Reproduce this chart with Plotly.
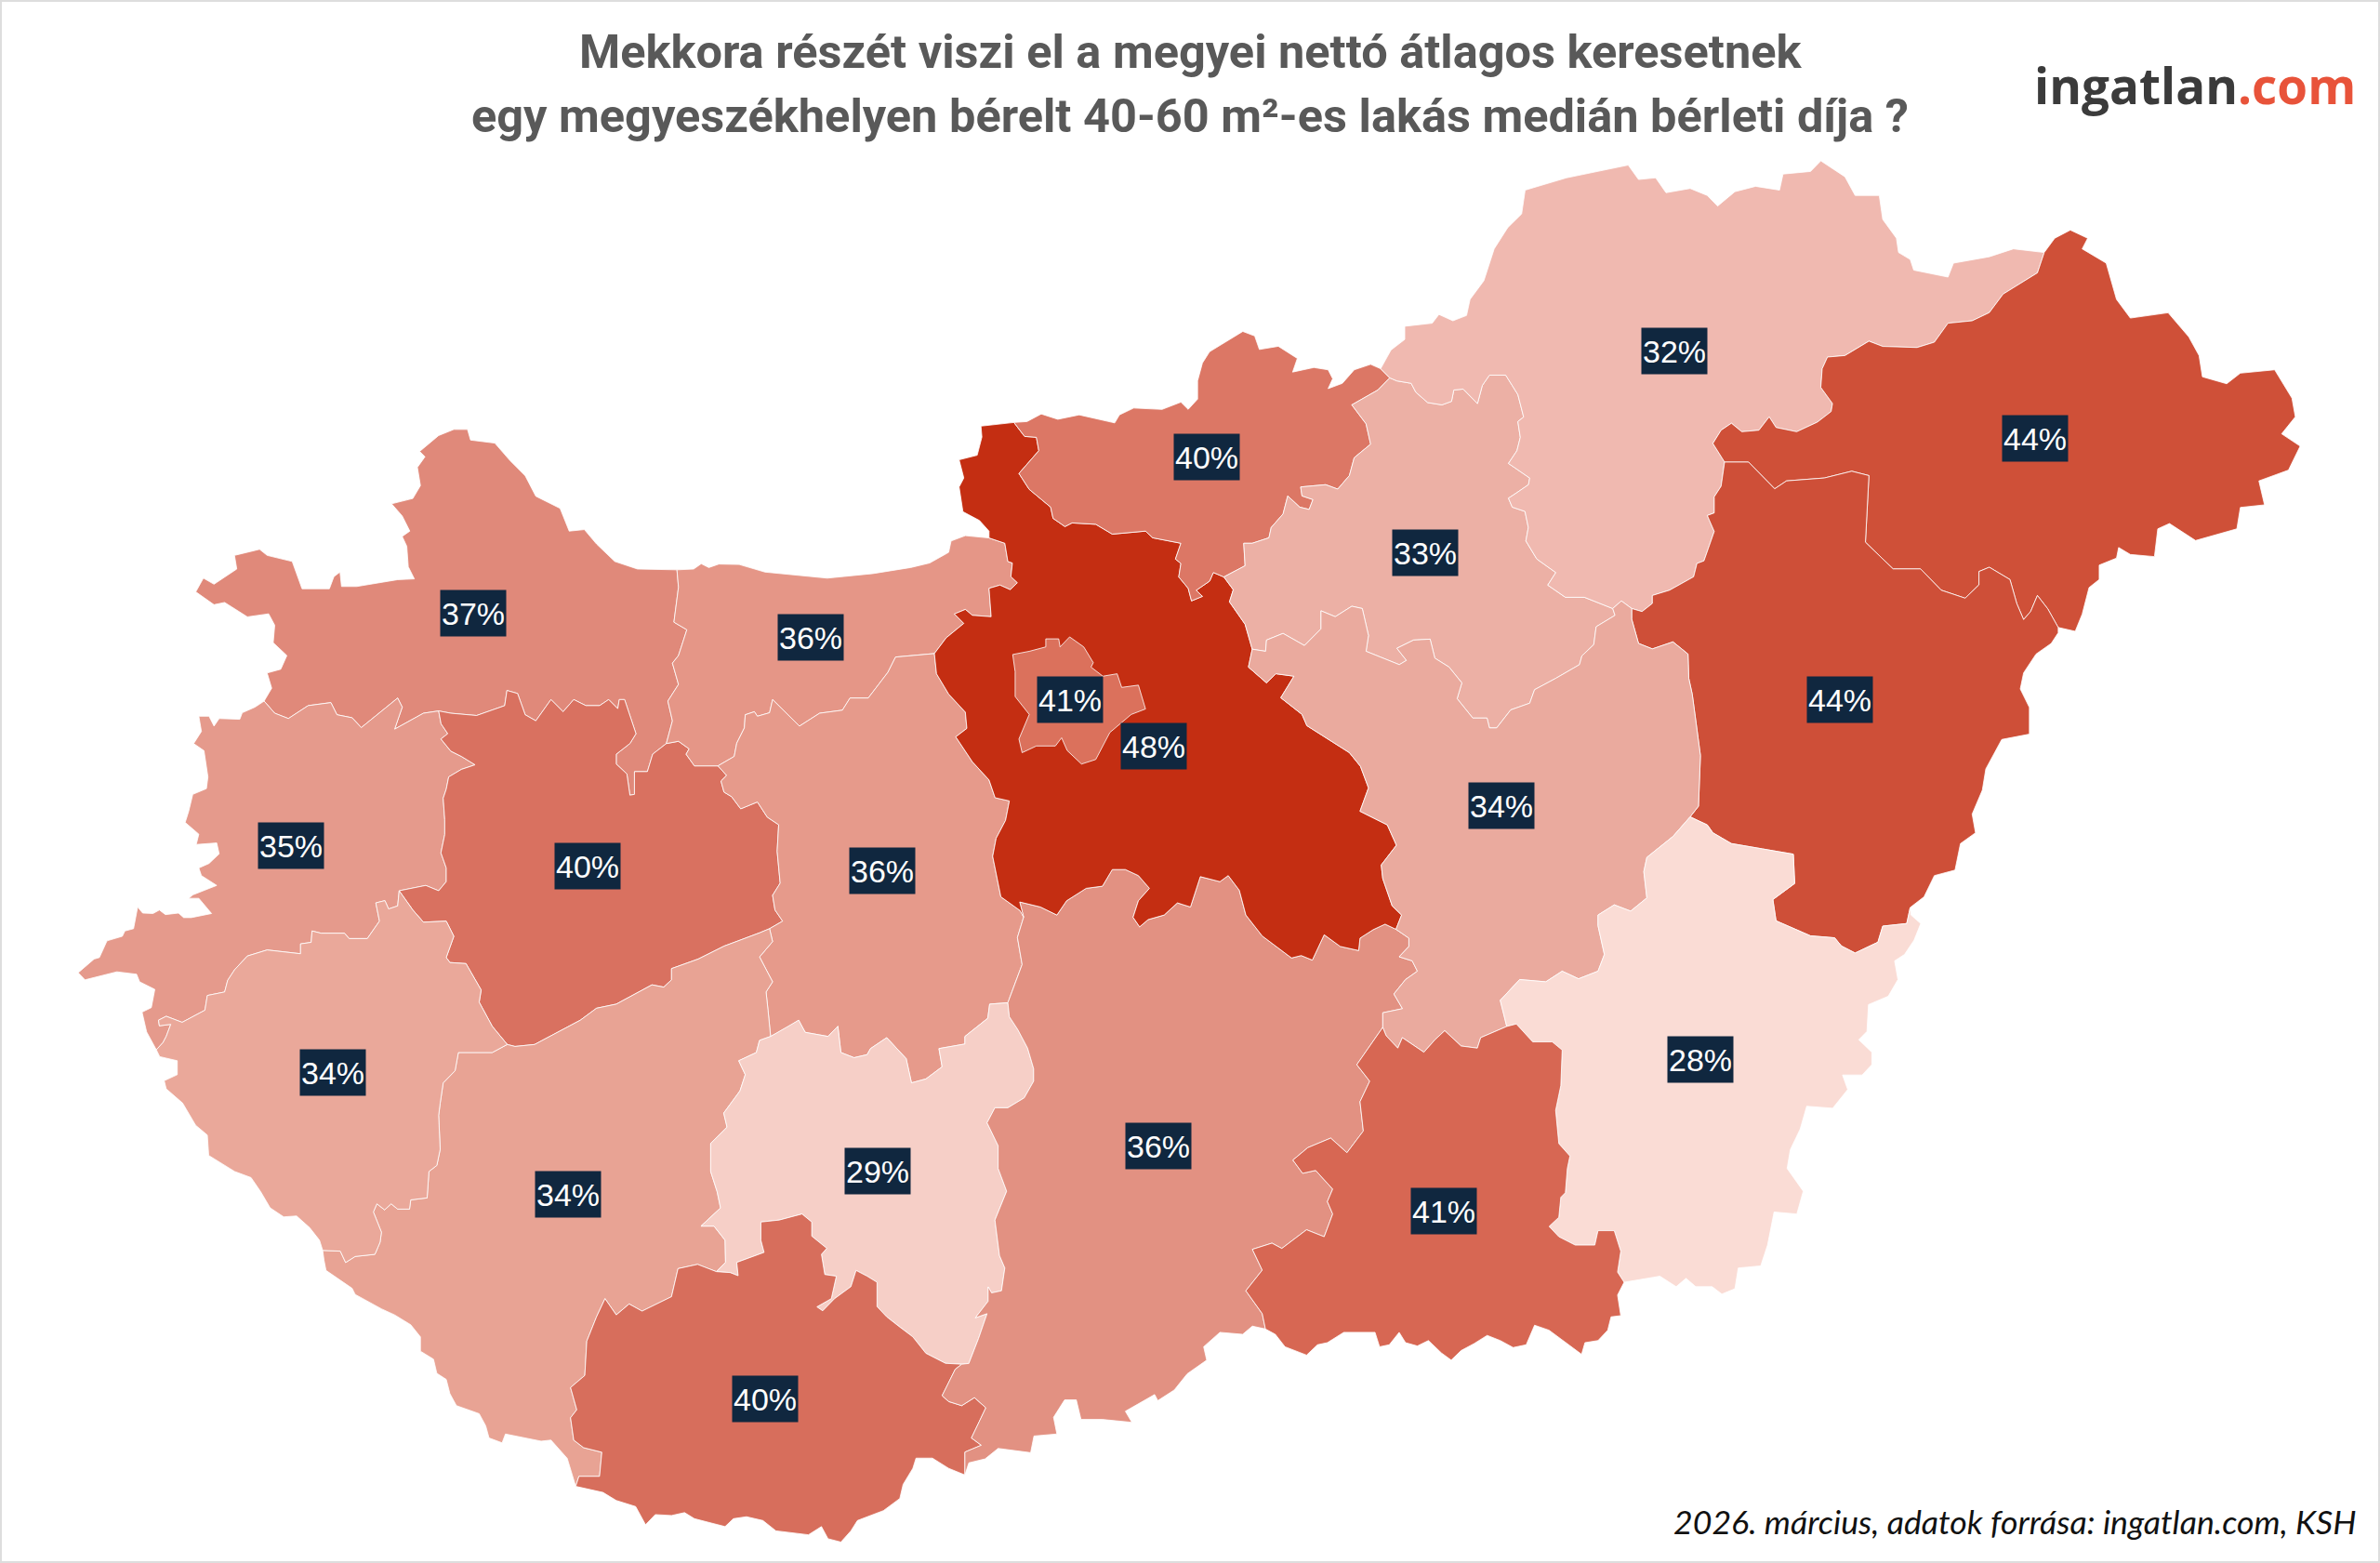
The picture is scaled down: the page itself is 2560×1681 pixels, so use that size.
import plotly.graph_objects as go

gms_outer = [(174,462),(179,453.5),(176,443.5),(185,441),(189,432),(180,423.5),(181,412),(177,404.5),(163,406.5),(148,397),(141,398.5),(129,390),(134,381),(141,385),(156,375),(154.5,366),(171,362),(176,366),(192.5,370),(199,388),(217,388),(220,380),(224,377),(225,386.5),(235,386.5),(262,382),(273,381.5),(269,373.5),(268,360),(265,353.5),(270,350),(265,340),(258,332),(272,328.5),(277,320),(275,308),(280,301),(276.5,297.5),(289,287),(299,283),(308,283),(310,290),(326,292),(336,303.5),(346,313.5),(353,327),(369,335),(375,350),(385,349),(393,358.5),(405,370),(420,375),(446,375.5)]
gms_kom = [(446,375.5),(447,387),(444,410),(452.5,415),(447,432),(443,437),(447,451),(440,462),(443,475),(439,490)]
gms_ves = [(289,468.5),(297,470),(314,471.5),(332.5,465),(334,455),(341,457),(346,471),(353,475),(363,461),(371,469),(378,461),(386,465),(395,465),(401,461),(407,467),(408,461),(411.5,461),(419,483.5),(415,490),(406,497),(406,503.5),(413,510),(415,524),(418,523.5),(418,508.5),(426.5,508.5),(430,497),(439,490)]
gms_vas = [(174,462),(181,470),(190,473.5),(203,465),(218,463),(222,471),(232,473),(238,479.5),(262,460),(265,466),(260,480.5),(279,470),(289,468.5)]
vas_ves = [(289,468.5),(290.6,477),(295,483.5),(290.5,487),(297,495),(304,498.5),(313,504),(304,507),(295.6,512),(294,520),(292,526),(293,540),(293,550),(290.5,562),(294,572),(294,581),(289,587),(280.5,583.5),(263,587)]
vas_zala = [(263,587),(262,597),(256,599),(253.6,593.5),(247.6,595),(250,607),(242,618.5),(230,618.5),(227,615),(211.6,615),(205.6,613.5),(205,621),(198,622),(198,628.5),(176,626),(163,630),(154.6,639),(150,646),(148,653.7),(136.6,656),(135,665.7),(120,673.7),(109.5,669.7),(104.4,672.3),(105,676),(112.5,675),(109.5,683),(107.4,687),(103,691.8)]
vas_outer = [(103,691.8),(96.6,680),(93.6,667),(99.7,664),(102,652),(92,647),(90,642),(77,640.4),(56,645.7),(51.5,641),(62,632),(65.5,631),(70.5,620),(80.6,617),(82.3,613.5),(88,612),(90.7,597.7),(94,601.7),(100.8,602),(105,599.7),(109,602.7),(117.6,601.7),(121,604.7),(126,604.7),(139.4,602),(131,592),(124.3,592),(127,589.7),(142.8,583.5),(132.7,577),(131,572),(137.7,569),(144.4,562.7),(142.8,555.5),(129.3,556.5),(131,549.7),(122,542),(124.3,534.7),(127,523.5),(136,519.7),(137,512),(134.4,494.7),(127.6,490),(132.7,482),(131,472),(137.7,472),(141,478.5),(144.4,473.5),(158,474),(159.6,469.7),(168,466),(174,462)]
ves_kom = [(439,490),(447,488.5),(454,493.5),(452,497),(457.5,504.7),(473,504.7)]
ves_fej = [(473,504.7),(478.7,511),(475,514.7),(477,522),(482,525),(488,533),(499,528.5),(505.5,538.5),(513,543.5),(512,561),(514,582),(509,590),(510.6,599.7),(515.6,607),(507,612)]
ves_som = [(507,612),(500.5,614.7),(477,623.5),(460,632),(442.4,638.3),(442.4,645.7),(437.3,650.5),(429.5,649),(406,661.7),(393,664.4),(382.3,672.3),(352.2,688.3),(339.3,689.6),(334.2,688.3)]
ves_zala = [(334.2,688.3),(324.3,676.3),(315.7,660.4),(317,652.4),(307,635),(296.4,634.3),(294,631),(299,617),(294,607),(279,607.7),(272,599.7),(263,587)]
kom_outer = [(446,375.5),(457,375),(462,371.5),(467,374),(473.6,371.7),(487,372),(504,377),(526.7,379),(545,381),(575,378),(600,374),(612.5,371),(625,364),(626.6,356.5),(636,353),(651.6,354.5)]
kom_pest = [(651.6,354.5),(662,358),(664,370),(667,371),(666,380),(670.3,384),(665.6,388.6),(658.8,385.6),(651.6,387.7),(653,406.4),(640.6,405.5),(636,401.6),(628.8,404.6),(635,410.8),(623.4,420.3),(615.6,430.7)]
kom_fej = [(615.6,430.7),(590,433),(585,443),(572,460),(560,460),(555,468),(540,470),(526.7,478.5),(514,466),(509,461),(507,469.7),(499,472),(497,469),(491,471),(490.4,479.7),(485.4,489.7),(483.7,498.5),(473,504.7)]
fej_pest = [(615.6,430.7),(617,444),(625,457.4),(636,469.3),(637,480),(629.7,485.6),(640.6,502),(651.6,514),(655.6,525.7),(665,527.8),(662.5,540.6),(656.3,552.4),(654,564.3),(659.4,591),(672,600),(674.4,604.4)]
fej_bacs = [(674.4,604.4),(670.3,617.8),(673.4,635.6),(665.6,656.4),(664,660.8)]
fej_tol = [(664,660.8),(652,661.7),(650.8,671),(635.7,683),(635.7,688),(618.6,691),(620.7,703),(610,711),(600.5,713.6),(597,697.6),(584.2,683.8),(573.5,691),(571.3,695),(562.7,697),(554,693.6),(552,676.3),(545.5,683),(530.5,680.3),(526.2,672.3),(519.8,676.3),(507.7,683)]
fej_som = [(507.7,683),(506,665.7),(504.7,653.7),(509,647),(500.4,630.6),(509,620.5),(507,612)]
som_zala = [(334.2,688.3),(324.3,693.6),(302,693.6),(299.8,705.6),(292,713.6),(290,727),(289,735),(290,757.4),(287.8,768),(282.6,772),(281.4,789.4),(270.6,790.7),(269.8,796.8),(262,796.8),(257.7,793.3),(253.4,797.3),(248.3,793.3),(246,798.7),(251.3,812),(250.4,818.6),(247,826.6),(234,828),(227.7,832),(224.2,824.5),(212.6,824)]
som_outer = [(212.6,824),(213.5,830.6),(214.8,837.2),(232,849),(234,853),(251.3,862.5),(260,866.5),(270.6,873),(277,881),(277,890.4),(285.6,895.7),(287.8,905),(294,909),(296.4,918.4),(300.7,926.3),(315.7,931.6),(320,939.6),(322.2,947.6),(330.8,950.8),(333,945),(356.5,949.7),(363,949),(373.7,961),(379.3,979.5)]
som_bar = [(379.3,979.5),(381.4,972.9),(395,972.9),(396.5,957),(384.5,954),(378,949),(375.9,934.3),(380,929),(375.9,914.4),(385.3,906.4),(386.6,883.8),(393,867.8),(398.6,855.8),(406,866.5),(414.5,859.3),(423,864),(442.4,854.5),(446.7,836),(459.6,833.2),(472,838)]
som_tol = [(472,838),(478,831.9),(477.7,817.3),(470.4,808),(461.8,808),(474.7,796),(472.5,785.4),(468.2,772),(468.2,753.5),(479,742.8),(476.8,733.5),(487.5,718.9),(491,708.2),(486.7,699),(498.3,693.6),(500.4,685.6),(507.7,683)]
zala_outer = [(212.6,824),(210.5,817.3),(204,809),(195.4,801.3),(186.9,801.9),(178,796),(171.8,785.4),(165.4,776),(154.6,772),(137.5,761.4),(136.6,748),(128.9,741.5),(120.3,726.9),(109.5,717.5),(108.2,712.2),(116.8,708.2),(116.8,699),(105.2,696.3),(103,691.8)]
tol_bacs = [(664,660.8),(665,670),(670.5,678.4),(677,690.7),(681,704.3),(681,712.5),(674.8,723.5),(664,730),(655.5,730),(650.3,739.9),(657.6,755),(657.6,770),(663.2,785),(655.5,804),(658.5,827.4),(662,835.6),(659.8,850.6),(653.3,852),(651,848),(651,857.5),(642.6,868.4),(650.3,865.7),(644.7,882),(638.3,898.5),(633.6,899)]
tol_bar = [(633.6,899),(622.9,898.4),(610,891.8),(601.4,881),(592.8,874.5),(584.2,867.8),(577.8,861),(577.8,845),(571.3,841),(564,837.2),(560.6,847.9),(549.8,855.8),(542,863.8),(538.2,861.2),(547.7,855.8),(551,841),(543.4,839.9),(541.2,826.6),(544.7,822.6),(534.8,814.6),(534.8,805.3),(528.4,800),(513.3,804),(501.3,805.3),(501.3,817.3),(503.4,825.3),(485.4,831.9),(486.3,840.7),(481,838.6),(472,838)]
bar_bacs = [(633.6,899),(629.3,902.4),(620.7,919.7),(625,923.6),(633.6,926.3),(642,921),(649.5,927.7),(640,947.6),(646.5,952.4),(635.7,956.9),(635.7,972)]
bar_outer = [(635.7,972),(625,967.6),(614.3,960.9),(603.5,960.9),(601.4,967.6),(595,978.2),(592.8,987.5),(582,995.5),(564.9,1002),(560.6,1008.8),(554,1016.2),(545.5,1014),(541.2,1006),(532.6,1011.4),(511.2,1008.8),(502.6,1002),(491.8,999.5),(483.2,1000.8),(477.7,1006),(457.5,1000.8),(451,996.8),(442.4,998.7),(431.7,998.1),(425.3,1004.8),(418.8,992.8),(406,988.8),(397.3,983.5),(379.3,979.5)]
bacs_pest = [(674.4,604.4),(671.8,594.4),(685.5,597.7),(696.3,603),(702.7,593.6),(715.6,585.4),(726.3,584),(732.8,573),(741.4,573),(750,577),(757.3,585.4),(750,593.6),(746.5,604.5),(750.8,610.8),(756.4,606),(767,603),(775.7,595),(784.3,597.7),(790.8,577.7),(803.7,581),(809.2,577),(816.5,586.7),(820.8,603),(831.6,616.8),(850.9,631.3),(857.3,629.7),(864.6,632.7),(872.4,616),(883,623.7),(895.1,626.4),(896,618.2),(904.6,612.7),(912.5,609),(919.7,612.4)]
bacs_jasz = [(919.7,612.4),(928.2,618.2),(928.2,623.7),(921.8,630.5),(930.4,633.2),(933.8,640),(926,645.5),(918.3,655),(924,664.7),(911,667.4),(911,677)]
bacs_csong = [(911,677),(893.9,701.6),(902.4,712.5),(896,726),(898.2,745.3),(887.4,759.6),(876.7,750),(861.6,756.3),(851.8,764.5),(858.2,773.2),(866.8,771.3),(878,783.6),(874.5,791.8),(878,800),(872.4,815),(860.8,810.4),(844.5,822.7),(838,819.2),(825.1,823.3),(831.6,837),(820.8,850.6),(831.6,865.7),(833.7,875.8)]
bacs_outer = [(833.7,875.8),(825.1,873.9),(818.7,879.3),(803.7,878),(793,887.5),(795,896.3),(782.2,905.3),(773.6,916),(762.8,923),(760.7,919),(741.4,930),(745.7,937.3),(726.3,935.4),(712.2,935.4),(709.1,922.5),(701.4,922.5),(694.1,934),(696.3,945),(681.2,946.3),(679,957.3),(657.6,954.5),(649,961.4),(638.3,964),(635.7,972)]
pest_outer = [(651.6,354.5),(651.6,350),(645.3,343),(634.4,337.2),(631.9,320.9),(635,315),(631.9,303),(643.8,300),(646.9,288),(646.3,280.8),(668,278.4)]
pest_nog = [(668,278.4),(675,287.6),(682.8,288.2),(684.4,297),(671.3,312),(678,322.4),(692.2,334.2),(693.8,341.6),(701.6,347),(706.3,344.6),(721.9,345.5),(732.8,352),(754.7,350),(759.4,354.4),(778,358),(774.4,368.4),(778,371.3),(776.6,380.2),(782.8,387.7),(785,396),(792.2,393),(788.1,389),(796.9,383),(799.4,377.3),(806.3,380.2)]
pest_hev = [(806.3,380.2),(812.5,388.6),(810,396.6),(820.3,411.4),(825,427.8)]
pest_jasz = [(825,427.8),(822.5,439.6),(834.4,450),(840.6,444),(852.5,445.6),(843.8,459.8),(857.8,470.8),(861,478.2),(889,496),(896.3,505),(901.6,519.2),(896,534.6),(914,543.6),(920,557),(910,570),(911,579),(917.2,597),(923.4,603),(919.7,612.4)]
nog_north = [(668,278.4),(676.6,277.8),(686,272.8),(696.9,276.3),(711,273.4),(734.4,278.7),(737.5,273.4),(746.9,268.9),(765.6,269.8),(778,265),(782.8,269.8),(789,263),(789,251),(792.2,239.2),(796.9,231.8),(818.8,218.4),(826.6,221.4),(829.7,230.3),(842.2,228.2),(854.7,236.2),(851.6,245.2),(865.6,242.2),(875,243.7),(878,249.6),(875,256.1),(884.4,252.6),(892.2,243.7),(903,240.1),(909.6,243),(915.6,249)]
nog_hev = [(915.6,249),(907.8,257),(890.6,266.8),(900,279.3),(903,292.7),(892.2,301.6),(889,313.4),(881.3,322.3),(873.4,319.4),(856.9,320.9),(857.8,326.8),(865,329.2),(862.5,335.7),(856.3,334.2),(848.4,326.8),(845.3,338.7),(837.5,347.6),(836,354.4),(825,358),(819.4,358),(820.3,372.8),(806.3,380.2)]
hev_bor = [(915.6,249),(920.3,251),(929.7,252.6),(932.8,258.5),(940.6,265.3),(950,266.8),(956.3,264.5),(957.8,257),(964,256.4),(973.4,266),(976.6,254),(981.3,247.2),(992,247.2),(1000,260),(1003.8,274.8),(1000,277.8),(1001.6,288.2),(999.4,297),(993.8,305.4),(1007.8,315),(1007,319.4),(998.4,325.3),(993.8,328.3),(996.3,334.2),(1004.7,337),(1006.9,347.6),(1005.3,356.5),(1012.5,368.4),(1025,377.3),(1019.7,385.6),(1031.3,393.6),(1043.8,393.6),(1062.5,401)]
hev_jasz = [(1062.5,401),(1064,405.5),(1051.6,413),(1050,424.8),(1042.2,432.2),(1040.6,438),(1025,447),(1011,454.5),(1007.8,463.4),(995.3,467.8),(986,479.7),(981.3,479.7),(979.7,473.2),(970.3,473.2),(960,460.4),(963.1,450),(954.7,439.6),(945.3,433.7),(942.2,421.2),(931.3,421.8),(920.3,427.2),(926.6,435.2),(921.9,438),(900,429.2),(901.6,418.8),(897.5,401),(890.6,399.5),(879.7,406.4),(870.3,402.5),(870.3,414.4),(859.4,425.4),(845.3,417.4),(834.4,421.8),(833.8,429.2),(825,427.8)]
bor_outer = [(915.6,249),(909.6,243),(916.4,230.7),(925.5,223.7),(925.5,215),(943.6,213),(948,207.2),(957.2,211.4),(966.2,207.9),(968.5,197.3),(977.6,185),(984.4,164),(993.4,149.9),(1002.5,141),(1004.8,125.3),(1032,117.2),(1072.7,108.8),(1079.5,118.3),(1090.8,117.2),(1097.6,127),(1113.5,124.2),(1124.8,128.8),(1131.6,135.8),(1143,126.3),(1156.6,122.8),(1172.4,125.3),(1174.7,114.7),(1192.8,113),(1199.6,106),(1215.5,116.5),(1222.2,128.8),(1238.1,128.8),(1240.4,144.6),(1249.4,157),(1250.8,166.4),(1258.5,171),(1260.8,178),(1283.4,182.6),(1287,173.4),(1310.6,169.2),(1326.5,164),(1346.8,166.4)]
bor_sza = [(1346.8,166.4),(1342.3,179.8),(1319.7,193.8),(1310.6,206),(1299.3,211.4),(1283.4,213),(1274.4,225.5),(1263,229),(1240.4,228.3),(1231.3,224.8),(1215.5,234.3),(1204,235.3),(1200.5,243),(1199.6,255.3),(1207.3,265.9),(1206.4,271.2),(1197.3,278.2),(1183.7,284.5),(1170.1,281.7),(1165.6,274.7),(1158.8,283.5),(1147.5,284.5),(1140.7,278.9),(1133.9,283.5),(1128.5,292.2),(1136.2,304.5)]
bor_haj = [(1136.2,304.5),(1133.9,320.4),(1129.4,327.4),(1129.4,338),(1124.8,339.7),(1129.4,350.2),(1122.6,369.6),(1118,371.3),(1115.8,380.1),(1100,388.9),(1088.6,392.4),(1088.6,397.7),(1081.8,403),(1075,401)]
bor_jasz = [(1075,401),(1068.2,396),(1062.5,401)]
sza_outer = [(1346.8,166.4),(1353.7,157),(1364,151.6),(1375.4,157),(1371.8,164),(1387.6,173.4),(1394.4,197.3),(1403.5,209.6),(1428.4,206.1),(1442,222),(1448.8,234.3),(1451,248.3),(1467,252.9),(1476,245.9),(1498.6,243.7),(1510,262.4),(1512.2,274.7),(1503.2,285.9),(1515.4,294),(1507.7,309.8),(1488.2,316.9),(1491.9,332.7),(1476,334.4),(1473.7,348.5),(1446.5,356.2),(1429.3,345),(1421.6,348.5),(1419.4,366.8),(1403.5,365.4),(1395.8,360.8),(1394.4,367.8),(1383,372.4),(1383,381.9),(1376.3,387.2),(1371.8,404.7),(1367.2,416),(1356,413.5)]
sza_haj = [(1356,413.5),(1349.1,401.2),(1342.3,392.4),(1337.8,403),(1333.2,408.3),(1328.7,397.7),(1324.2,381.9),(1310.6,373.8),(1303.8,376.6),(1303.8,385.4),(1294.7,394.2),(1278.9,388.9),(1265.3,374.9),(1247.2,374.9),(1229,357.3),(1231.3,313.4),(1220,310.5),(1201.9,315),(1177,316.9),(1169.2,322.1),(1152,304.5),(1136.2,304.5)]
haj_outer = [(1356,413.5),(1356,417),(1351.4,424),(1341.4,431),(1333.2,443.4),(1331,454),(1337,466.2),(1337,483.8),(1318.8,487.3),(1308.3,506.7),(1306,520.7),(1299.3,536.5),(1301.5,548.8),(1291.6,555.9),(1288,573.4),(1274.4,577),(1267.6,591),(1258.5,598)]
haj_bek = [(1258.5,598),(1256.2,608.6),(1240.4,610.3),(1237.2,620.9),(1222.2,628),(1213.2,623.4),(1208.7,618),(1192.8,616.7),(1170.1,606.8),(1168,592.8),(1182.4,582.2),(1181.5,562.9),(1161.1,559.4),(1140.7,555.9),(1128.5,548.8),(1124.8,543.6),(1113.5,538.3)]
haj_jasz = [(1113.5,538.3),(1119,531.3),(1120.3,497.9),(1114.9,457.5),(1112.6,447),(1112.1,431),(1102.2,423),(1088.6,427.6),(1079.5,424),(1075,408),(1075,401)]
bek_outer = [(1258.5,598),(1259,603),(1265.4,608.6),(1261,619.6),(1254.7,629),(1248.2,633.2),(1250.4,645.5),(1244,656.5),(1231,662),(1230,679.7),(1224.6,685.2),(1233.2,693.4),(1233.2,701.6),(1226.8,708.4),(1213.9,708.4),(1217.3,718),(1207.4,730.3),(1190.3,729),(1186,744),(1179.5,757.6),(1177.4,770),(1188,785),(1183.8,800),(1168.8,798.7),(1164.5,820.5),(1160,834.2),(1145.2,835.6),(1143,849.3),(1134.4,852.8),(1128,847.9),(1117.2,847.9),(1110.8,842.4),(1104.3,847.9),(1093.6,841),(1070,845)]
bek_csong = [(1070,845),(1065.7,838.3),(1067.8,824.6),(1063.5,811),(1052.8,811),(1050.7,820.5),(1037.8,820.5),(1027,815),(1020.6,808.2),(1027,802.2),(1028.3,789),(1031.3,786),(1032.6,770),(1034.3,761.8),(1027,753.6),(1024.9,731.7),(1028.3,715.3),(1029.2,692),(1022.7,686.6),(1009.8,686.6),(999,674.8),(992.7,676.4)]
bek_jasz = [(992.7,676.4),(988.4,659.2),(1001.2,645.5),(1018.4,647),(1029.2,640),(1040,645),(1052.8,640),(1057,629),(1052.8,610),(1052.8,603),(1063.5,596.3),(1074.3,600.4),(1085,591.7),(1083,574.4),(1085,565),(1102.2,551.2),(1113.5,538.3)]
jasz_csong = [(992.7,676.4),(975.5,683.8),(973.3,690.7),(962.6,689.3),(951.8,679.2),(945.4,685.2),(938.1,693.4),(923.9,683.8),(920.9,690.7),(913.2,682.5),(911,677)]
cso_outer = [(1070,845),(1065.7,853.4),(1067.8,867),(1061.4,867.8),(1059.2,876.6),(1052.8,883.4),(1044.2,884.8),(1042,892.5),(1031.3,884.8),(1020.6,876.6),(1011,873.3),(1005.5,886.2),(996.9,888),(988.4,883.4),(979.8,880),(971.2,885.4),(962.6,890),(956.1,896.3),(949.7,891.6),(941.1,883.4),(933.8,887),(926,884.8),(921.8,878),(915.3,886.2),(908.9,887.5),(905.9,878),(885.3,878),(874.5,884.8),(868,886.2),(860.8,893),(846.6,887.5),(840.2,879.3),(833.7,875.8)]
budapest = [(667.2,431.3),(678.1,429.2),(689,426.3),(689,421),(697.5,421),(698.4,426.3),(704.7,419.7),(714,426.3),(720.3,436.7),(718.8,439.6),(726.6,445.6),(736,444),(739,453),(750,451.5),(754.7,467.2),(745.3,470.8),(731.2,482.7),(721.9,500.5),(712.5,503.5),(703.1,494.6),(699.4,486.2),(695.3,491.6),(682.8,491.6),(673.4,496),(671.3,487),(678.1,470.8),(668.8,459),(668.8,442.6),(667.2,431.3)]


def rev(arc):
    return arc[::-1]


# name, outline, percent, colour, label position
counties = [
    ("Győr-Moson-Sopron", gms_outer + gms_kom + rev(gms_ves) + rev(gms_vas), 37, "#E0897A", (312, 404)),
    ("Vas", gms_vas + vas_ves + vas_zala + vas_outer, 35, "#E59A8C", (192, 557)),
    ("Veszprém", gms_ves + ves_kom + ves_fej + ves_som + ves_zala + rev(vas_ves), 40, "#D97160", (387, 571)),
    ("Komárom-Esztergom", kom_outer + kom_pest + kom_fej + rev(ves_kom) + rev(gms_kom), 36, "#E59687", (534, 420)),
    ("Fejér", rev(kom_fej) + fej_pest + fej_bacs + fej_tol + fej_som + rev(ves_fej), 36, "#E69A8B", (581, 574)),
    ("Somogy", ves_som + som_zala + som_outer + som_bar + som_tol + fej_som, 34, "#E8A394", (374, 787)),
    ("Zala", rev(ves_zala) + som_zala + zala_outer + rev(vas_zala), 34, "#EAA89A", (219, 707)),
    ("Tolna", rev(fej_tol) + tol_bacs + tol_bar + som_tol, 29, "#F6CFC7", (578, 772)),
    ("Baranya", som_bar + rev(tol_bar) + bar_bacs + bar_outer, 40, "#D76E5C", (504, 922)),
    ("Bács-Kiskun", bacs_pest + bacs_jasz + bacs_csong + bacs_outer + rev(bar_bacs) + rev(tol_bacs) + rev(fej_bacs), 36, "#E29182", (763, 755)),
    ("Pest", pest_outer + pest_nog + pest_hev + pest_jasz + rev(bacs_pest) + rev(fej_pest) + rev(kom_pest), 48, "#C42E12", (760, 492)),
    ("Budapest", budapest, 41, "#DB715C", (705, 461)),
    ("Nógrád", rev(pest_nog) + nog_north + nog_hev, 40, "#DC7765", (795, 301)),
    ("Heves", rev(nog_hev) + hev_bor + hev_jasz + rev(pest_hev), 33, "#ECB0A5", (939, 364)),
    ("Borsod-Abaúj-Zemplén", bor_outer + bor_sza + bor_haj + bor_jasz + rev(hev_bor), 32, "#F0B9B0", (1103, 231)),
    ("Szabolcs-Szatmár-Bereg", rev(bor_sza) + sza_outer + sza_haj, 44, "#CF5038", (1341, 289)),
    ("Hajdú-Bihar", rev(sza_haj) + haj_outer + haj_bek + haj_jasz + rev(bor_haj), 44, "#CE4F38", (1212, 461)),
    ("Jász-Nagykun-Szolnok", rev(hev_jasz) + rev(bor_jasz) + rev(haj_jasz) + rev(bek_jasz) + jasz_csong + rev(bacs_jasz) + rev(pest_jasz), 34, "#EAAA9E", (989, 531)),
    ("Békés", rev(haj_bek) + bek_outer + bek_csong + bek_jasz, 28, "#FADCD5", (1120, 698)),
    ("Csongrád-Csanád", rev(jasz_csong) + rev(bek_csong) + cso_outer + rev(bacs_csong), 41, "#D76753", (951, 798)),
]

title_lines = [
    "Mekkora részét viszi el a megyei nettó átlagos keresetnek",
    "egy megyeszékhelyen bérelt 40-60 m²-es lakás medián bérleti díja ?",
]
source_text = "2026. március, adatok forrása: ingatlan.com, KSH"

fig = go.Figure()

for name, outline, pct, color, _ in counties:
    fig.add_trace(go.Scatter(
        x=[p[0] for p in outline],
        y=[p[1] for p in outline],
        mode="lines",
        fill="toself",
        fillcolor=color,
        line=dict(color="white", width=0.8),
        name=name,
        text=f"{name}: {pct}%",
        hoverinfo="text",
        showlegend=False,
    ))

# percentage boxes
for name, outline, pct, color, pos in counties:
    fig.add_annotation(
        x=pos[0], y=pos[1],
        text=f"{pct}%",
        showarrow=False,
        width=68, height=47,
        bgcolor="#10273F",
        font=dict(family="Liberation Sans", size=34, color="white"),
    )

for line, y in zip(title_lines, [34, 76]):
    fig.add_annotation(
        x=784, y=y,
        text=line,
        showarrow=False,
        font=dict(family="Roboto", size=50.5, color="#595959", weight="bold"),
    )

fig.add_annotation(
    x=1553, y=56,
    xanchor="right",
    text="<span style='color:#3B3B3B'>ingatlan</span><span style='color:#E8533A'>.com</span>",
    showarrow=False,
    font=dict(family="Open Sans", size=53, weight="bold"),
)

fig.add_annotation(
    x=1554, y=1003,
    xanchor="right",
    text=f"<i>{source_text}</i>",
    showarrow=False,
    font=dict(family="Lato", size=35.7, color="#111111"),
)

fig.add_shape(
    type="rect", xref="paper", yref="paper", x0=0, y0=0, x1=1, y1=1,
    line=dict(color="#DDDDDD", width=4),
)

fig.update_layout(
    width=2560,
    height=1681,
    margin=dict(l=0, r=0, t=0, b=0),
    paper_bgcolor="white",
    plot_bgcolor="white",
    showlegend=False,
    xaxis=dict(range=[0, 1568], visible=False, fixedrange=True),
    yaxis=dict(range=[1030, 0], visible=False, fixedrange=True),
)

# the page's default body margin would push the whole figure off by 8px
fig.write_html(
    "out.html",
    config={"displayModeBar": False},
    post_script="document.body.style.margin='0';",
)
